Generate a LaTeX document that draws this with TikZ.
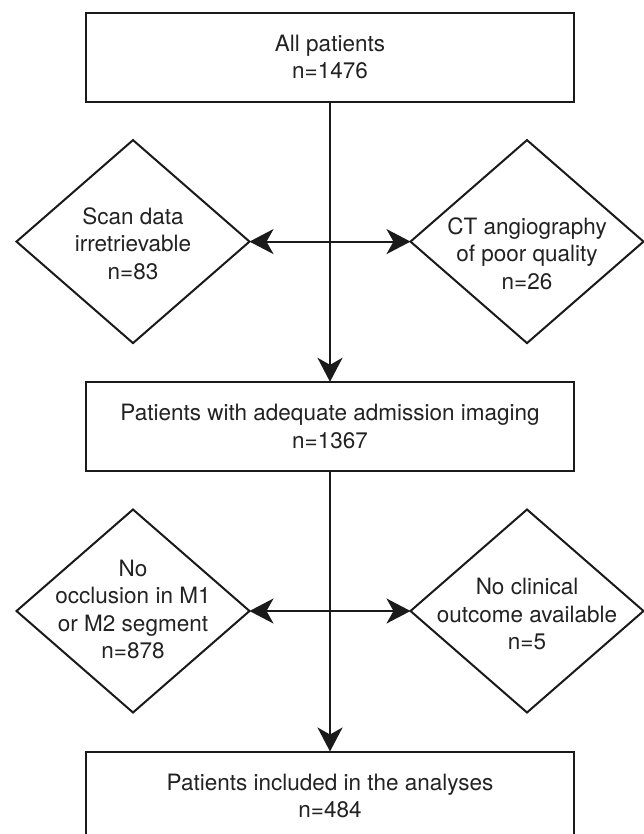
\documentclass[tikz,border=0pt]{standalone}
\usepackage{fontspec}
\setmainfont{TeX Gyre Heros}
\usetikzlibrary{shapes.geometric,arrows.meta}
\definecolor{ink}{HTML}{1A1A1A}
\definecolor{txt}{HTML}{222222}
\begin{document}
\begin{tikzpicture}[x=1pt,y=-1pt,
  every node/.style={font=\fontsize{22.5}{27.5}\selectfont, text=txt},
  box/.style={draw=ink, line width=2pt, rectangle, minimum width=488pt, minimum height=89pt, inner sep=0pt, outer sep=0pt, align=center},
  dia/.style={draw=ink, line width=2pt, diamond, minimum width=233pt, minimum height=203pt, inner sep=0pt, outer sep=0pt},
  lbl/.style={align=center, inner sep=0pt},
  arr/.style={draw=ink, line width=2pt, -{Stealth[length=24pt, width=25pt, inset=7pt]}},
  darr/.style={draw=ink, line width=2pt, {Stealth[length=24pt, width=25pt, inset=7pt]}-{Stealth[length=24pt, width=25pt, inset=7pt]}}
]
\useasboundingbox (0,0) rectangle (644,834);
\fill[white] (0,0) rectangle (644,834);
\clip (0,0) rectangle (644,834);

% boxes
\node[box] (b1) at (330,57.2) {All patients\\n=1476};
\node[box] (b2) at (330,426.3) {Patients with adequate admission imaging\\n=1367};
\node[box] (b3) at (330,796) {Patients included in the analyses\\n=484};

% first row of diamonds
\node[dia] (d1) at (133,241.6) {};
\node[dia] (d2) at (527,241.6) {};
\node[lbl] (d1t) at (133,243.5) {Scan data\\irretrievable\\n=83};
\node[lbl] (d2t) at (527,253.5) {CT angiography\\of poor quality\\n=26};

% second row of diamonds
\node[dia] (d3) at (133,611) {};
\node[dia] (d4) at (527,611) {};
\node[lbl] (d3t) at (133,609.5) {No\\occlusion in M1\\or M2 segment\\n=878};
\node[lbl] (d4t) at (527,614) {No clinical\\outcome available\\n=5};

% connectors
\draw[arr] (b1.south) -- (b2.north);
\draw[darr] (d1.east) -- (d2.west);
\draw[arr] (b2.south) -- (b3.north);
\draw[darr] (d3.east) -- (d4.west);
\end{tikzpicture}
\end{document}
